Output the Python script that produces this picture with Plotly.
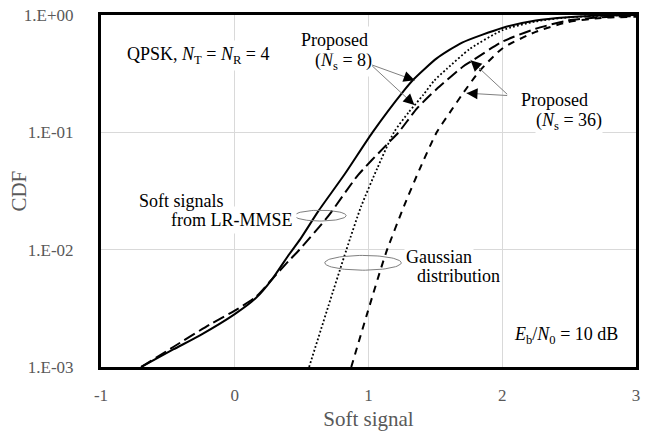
import numpy as np
import plotly.graph_objects as go

# ---------------- data ----------------
# Soft signals from LR-MMSE, Ns = 8 (solid)
lr8_x = [-0.70, -0.46, -0.26, 0.0, 0.16, 0.28, 0.40, 0.49, 0.625, 0.82, 1.03,
         1.265, 1.34, 1.51, 1.70, 2.0, 2.25, 2.49, 2.75, 3.0]
lr8_y = [0.0010, 0.00141, 0.00186, 0.00282, 0.00389, 0.00562, 0.00891, 0.0123,
         0.0213, 0.0437, 0.100, 0.227, 0.285, 0.427, 0.582, 0.776, 0.897, 0.955,
         0.989, 1.0]

# Soft signals from LR-MMSE, Ns = 36 (long dash)
lr36_x = [-0.70, -0.46, -0.19, 0.0, 0.16, 0.28, 0.40, 0.48, 0.70, 0.92, 1.14,
          1.225, 1.363, 1.51, 1.71, 1.77, 2.0, 2.25, 2.49, 2.74, 3.0]
lr36_y = [0.0010, 0.00148, 0.00229, 0.00302, 0.00398, 0.00562, 0.00794, 0.00989,
          0.0194, 0.0430, 0.0794, 0.100, 0.160, 0.234, 0.366, 0.404, 0.592,
          0.764, 0.897, 0.957, 0.977]

# Gaussian distribution, Ns = 8 (dotted)
g8_x = [0.556, 0.70, 0.835, 0.945, 1.068, 1.19, 1.30, 1.41, 1.49, 1.585, 1.757,
        2.0, 2.25, 2.5, 2.75, 3.0]
g8_y = [0.0010, 0.00331, 0.0100, 0.0234, 0.0501, 0.100, 0.148, 0.209, 0.275,
        0.347, 0.513, 0.741, 0.881, 0.955, 0.986, 1.0]

# Gaussian distribution, Ns = 36 (short dash)
g36_x = [0.871, 0.994, 1.13, 1.27, 1.38, 1.51, 1.609, 1.695, 1.83, 2.003, 2.25,
         2.49, 2.74, 3.0]
g36_y = [0.0010, 0.00295, 0.00933, 0.0242, 0.0479, 0.100, 0.148, 0.206, 0.333,
         0.521, 0.718, 0.869, 0.944, 0.966]

x_ticks = [-1, 0, 1, 2, 3]
x_ticktext = ["-1", "0", "1", "2", "3"]
y_ticks = [0.001, 0.01, 0.1, 1.0]
y_ticktext = ["1.E-03", "1.E-02", "1.E-01", "1.E+00"]

# ---------------- figure ----------------
FONT = "Liberation Serif"
GRAY = "#595959"

fig = go.Figure()
fig.add_trace(go.Scatter(x=lr8_x, y=lr8_y, mode="lines", name="LR-MMSE (Ns=8)",
                         line=dict(color="black", width=2, shape="spline", smoothing=0.6)))
fig.add_trace(go.Scatter(x=lr36_x, y=lr36_y, mode="lines", name="LR-MMSE (Ns=36)",
                         line=dict(color="black", width=2, dash="12px,5px", shape="spline", smoothing=0.6)))
fig.add_trace(go.Scatter(x=g8_x, y=g8_y, mode="lines", name="Gaussian (Ns=8)",
                         line=dict(color="black", width=1.8, dash="1.8px,2.2px", shape="spline", smoothing=0.6)))
fig.add_trace(go.Scatter(x=g36_x, y=g36_y, mode="lines", name="Gaussian (Ns=36)",
                         line=dict(color="black", width=2, dash="7px,6px", shape="spline", smoothing=0.6)))

# ellipses (annotation marks), drawn in x / log10(y) space
t = np.linspace(0, 2 * np.pi, 80)
for cx, cly, rx, ry in [(0.640, -1.71, 0.193, 0.046), (0.959, -2.112, 0.286, 0.063)]:
    fig.add_trace(go.Scatter(x=cx + rx * np.cos(t), y=10 ** (cly + ry * np.sin(t)),
                             mode="lines", line=dict(color="#7f7f7f", width=1),
                             hoverinfo="skip"))

ann = []
def txt(x, ly, s, bg=True, pad=3):
    ann.append(dict(x=x, y=ly, xref="x", yref="y", text=s, showarrow=False,
                    xanchor="left", yanchor="middle",
                    bgcolor="white" if bg else "rgba(0,0,0,0)", borderpad=pad,
                    font=dict(family=FONT, size=18, color="black")))

txt(-0.837, -0.344, "QPSK, <i>N</i><sub>T</sub> = <i>N</i><sub>R</sub> = 4")
txt(0.573, -0.394, "(<i>N</i><sub>s</sub> = 8)")
txt(0.469, -0.2095, "Proposed")
txt(2.243, -0.905, "(<i>N</i><sub>s</sub> = 36)", pad=0)
txt(2.132, -0.721, "Proposed", bg=False, pad=0)
txt(-0.503, -1.743, "from LR-MMSE")
txt(-0.747, -1.584, "Soft signals", bg=False)
txt(1.263, -2.061, "Gaussian", pad=1)
txt(1.330, -2.221, "distribution", bg=False)
txt(2.058, -2.732, "<i>E</i><sub>b</sub>/<i>N</i><sub>0</sub> = 10 dB")

# y-axis title placed as a paper annotation for exact position
ann.append(dict(x=-0.154, y=0.5, xref="paper", yref="paper", text="CDF", showarrow=False,
                textangle=-90, xanchor="center", yanchor="middle",
                font=dict(family=FONT, size=21, color=GRAY)))

def arrow(tx, tly, sx, sly, hx, hy):
    ann.append(dict(x=tx, y=tly, ax=sx, ay=sly, xref="x", yref="y", axref="x", ayref="y",
                    text="", showarrow=True, arrowhead=0, arrowwidth=1, arrowcolor="#808080"))
    ann.append(dict(x=tx, y=tly, ax=hx, ay=hy, xref="x", yref="y",
                    text="", showarrow=True, arrowhead=2, arrowsize=2.2, arrowwidth=1,
                    arrowcolor="black"))

arrow(1.345, -0.557, 1.016, -0.4215, -8.5, -3.1)
arrow(1.343, -0.767, 1.016, -0.4215, -6.6, -6.2)
arrow(1.763, -0.385, 2.048, -0.687, 6.6, 6.2)
arrow(1.733, -0.666, 2.048, -0.687, 9.0, 0.5)

fig.update_layout(
    width=646, height=433,
    margin=dict(l=101, r=6, t=14, b=61),
    paper_bgcolor="white", plot_bgcolor="white",
    showlegend=False,
    annotations=ann,
    font=dict(family=FONT, color=GRAY),
)
fig.update_xaxes(
    range=[-1, 3], tickvals=x_ticks, ticktext=x_ticktext,
    showgrid=True, gridcolor="#d9d9d9", gridwidth=1, zeroline=False,
    showline=True, linecolor="black", linewidth=3, mirror=True, ticks="",
    tickfont=dict(family=FONT, size=17, color=GRAY), ticklabelstandoff=11,
    title=dict(text="Soft signal", font=dict(family=FONT, size=21, color=GRAY), standoff=7),
)
fig.update_yaxes(
    type="log", range=[-3, 0], tickvals=y_ticks, ticktext=y_ticktext,
    showgrid=True, gridcolor="#d9d9d9", gridwidth=1, zeroline=False,
    showline=True, linecolor="black", linewidth=3, mirror=True, ticks="",
    tickfont=dict(family=FONT, size=17, color=GRAY), ticklabelstandoff=21,
)

# remove the browser's default 8px body margin so the figure fills the window
fig.write_html("out.html",
               config={"displayModeBar": False},
               post_script="document.body.style.margin='0px';document.body.style.padding='0px';")
